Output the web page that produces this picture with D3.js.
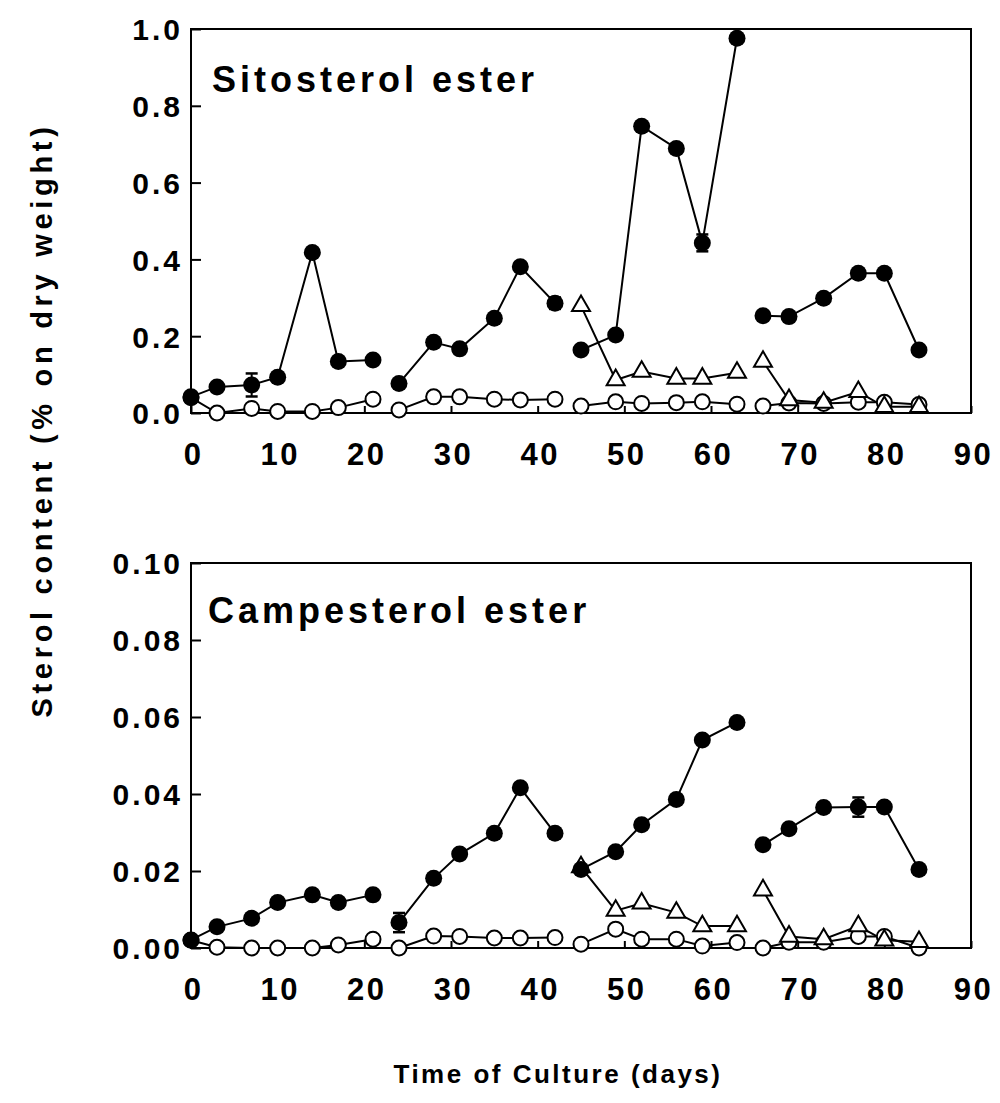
<!DOCTYPE html>
<html>
<head>
<meta charset="utf-8">
<script src="https://cdn.jsdelivr.net/npm/d3@7"></script>
<style>
    html, body { margin: 0; padding: 0; background: #fff; }
    svg text { font-family: "Liberation Sans", Arial, sans-serif; font-weight: bold; fill: #000; }
</style>
</head>
<body>
<div id="chart"></div>
<script>
// sampling days, the culture was split in four runs
var days    = [0, 3, 7, 10, 14, 17, 21, 24, 28, 31, 35, 38, 42, 45, 49, 52, 56, 59, 63, 66, 69, 73, 77, 80, 84];
var runs    = [0, 0, 0, 0, 0, 0, 0, 1, 1, 1, 1, 1, 1, 2, 2, 2, 2, 2, 2, 3, 3, 3, 3, 3, 3];
var xTicks  = [0, 10, 20, 30, 40, 50, 60, 70, 80, 90];

// Sitosterol ester
var sitoFilled = [0.042, 0.068, 0.073, 0.093, 0.418, 0.134, 0.138,
                  0.077, 0.184, 0.167, 0.247, 0.381, 0.286,
                  0.164, 0.203, 0.747, 0.689, 0.443, 0.976,
                  0.253, 0.251, 0.299, 0.364, 0.364, 0.164];
var sitoErr    = [0, 0, 0.03, 0, 0, 0, 0,
                  0, 0, 0, 0, 0, 0.015,
                  0, 0.008, 0.01, 0.01, 0.022, 0.005,
                  0, 0, 0, 0, 0.006, 0];
var sitoOpen   = [0.040, 0.000, 0.012, 0.004, 0.004, 0.014, 0.036,
                  0.008, 0.042, 0.042, 0.036, 0.034, 0.036,
                  0.018, 0.029, 0.025, 0.027, 0.029, 0.023,
                  0.018, 0.026, 0.025, 0.028, 0.028, 0.022];
var sitoTri    = [null, null, null, null, null, null, null,
                  null, null, null, null, null, null,
                  0.279, 0.086, 0.108, 0.090, 0.090, 0.105,
                  0.134, 0.034, 0.027, 0.055, 0.016, 0.016];
var sitoTicks  = [0, 0.2, 0.4, 0.6, 0.8, 1.0];

// Campesterol ester
var campFilled = [0.0021, 0.0055, 0.0077, 0.0118, 0.0138, 0.0118, 0.0138,
                  0.0066, 0.0181, 0.0244, 0.0298, 0.0416, 0.0298,
                  0.0204, 0.0250, 0.0320, 0.0386, 0.0540, 0.0586,
                  0.0268, 0.0310, 0.0365, 0.0366, 0.0366, 0.0204];
var campErr    = [0, 0, 0, 0, 0, 0, 0,
                  0.0025, 0, 0, 0.0008, 0, 0.0012,
                  0, 0, 0, 0, 0, 0.001,
                  0, 0, 0, 0.0025, 0.0012, 0.0008];
var campOpen   = [0.0020, 0.0002, 0.0000, 0.0000, 0.0000, 0.0008, 0.0023,
                  0.0000, 0.0031, 0.0030, 0.0026, 0.0026, 0.0027,
                  0.0010, 0.0049, 0.0023, 0.0023, 0.0005, 0.0014,
                  0.0000, 0.0015, 0.0015, 0.0030, 0.0030, 0.0000];
var campTri    = [null, null, null, null, null, null, null,
                  null, null, null, null, null, null,
                  0.0210, 0.0097, 0.0116, 0.0092, 0.0057, 0.0057,
                  0.0150, 0.0030, 0.0023, 0.0057, 0.0020, 0.0016];
var campTicks  = [0, 0.02, 0.04, 0.06, 0.08, 0.10];

var width  = 1000,
    height = 1103;

var svg = d3.select("#chart").append("svg")
    .attr("width", width)
    .attr("height", height);

var x = d3.scaleLinear().domain([0, 90]).range([191, 971]);

function drawPanel(opts){
    var y = d3.scaleLinear().domain([0, opts.max]).range([opts.bottom, opts.top]);
    var g = svg.append("g");

    // y axis, ticks pointing inwards
    var yAxis = d3.axisLeft(y)
        .tickValues(opts.yTicks)
        .tickFormat(d3.format(opts.fmt))
        .tickSizeInner(-10)
        .tickSizeOuter(0)
        .tickPadding(0);

    var ya = g.append("g")
        .attr("transform", "translate(" + x(0) + ",0)")
        .call(yAxis);
    ya.select(".domain").remove();
    ya.selectAll(".tick line").attr("stroke", "#000").attr("stroke-width", 2);
    ya.selectAll(".tick text")
        .attr("x", -8)
        .attr("dy", "0.36em")
        .style("font-size", "30px")
        .style("letter-spacing", "3px")
        .style("font-family", null);

    var xAxis = d3.axisBottom(x)
        .tickValues(xTicks)
        .tickFormat(d3.format("d"))
        .tickSizeInner(-7)
        .tickSizeOuter(0)
        .tickPadding(0);

    var xa = g.append("g")
        .attr("transform", "translate(0," + opts.bottom + ")")
        .call(xAxis);
    xa.select(".domain").remove();
    xa.selectAll(".tick line").attr("stroke", "#000").attr("stroke-width", 2);
    xa.selectAll(".tick text")
        .attr("y", 52)
        .attr("dy", 0)
        .attr("dx", 2)
        .style("font-size", "31px")
        .style("letter-spacing", "2.5px")
        .style("font-family", null);

    // frame
    g.append("rect")
        .attr("x", x(0))
        .attr("y", opts.top)
        .attr("width", x(90) - x(0))
        .attr("height", opts.bottom - opts.top)
        .attr("fill", "none")
        .attr("stroke", "#000")
        .attr("stroke-width", 2);

    g.append("text")
        .attr("x", opts.titleX)
        .attr("y", opts.titleY)
        .style("font-size", "36px")
        .style("letter-spacing", "4px")
        .text(opts.title);

    var rows = days.map(function(d, i){
        return { day: d, run: runs[i], filled: opts.filled[i], err: opts.err[i], open: opts.open[i], tri: opts.tri[i] };
    });

    var runIds = d3.groups(rows, function(d){ return d.run; });

    ["open", "tri", "filled"].forEach(function(key){
        var line = d3.line()
            .defined(function(d){ return d[key] !== null; })
            .x(function(d){ return x(d.day); })
            .y(function(d){ return y(d[key]); });

        runIds.forEach(function(r){
            g.append("path")
                .datum(r[1])
                .attr("d", line)
                .attr("fill", "none")
                .attr("stroke", "#000")
                .attr("stroke-width", 2);
        });
    });

    // error bars of the filled series
    var eb = g.selectAll(".err")
        .data(rows.filter(function(d){ return d.err > 0; }))
        .enter().append("g");
    eb.append("line")
        .attr("x1", function(d){ return x(d.day); })
        .attr("x2", function(d){ return x(d.day); })
        .attr("y1", function(d){ return y(d.filled - d.err); })
        .attr("y2", function(d){ return y(d.filled + d.err); })
        .attr("stroke", "#000").attr("stroke-width", 2);
    [-1, 1].forEach(function(s){
        eb.append("line")
            .attr("x1", function(d){ return x(d.day) - 6; })
            .attr("x2", function(d){ return x(d.day) + 6; })
            .attr("y1", function(d){ return y(d.filled + s * d.err); })
            .attr("y2", function(d){ return y(d.filled + s * d.err); })
            .attr("stroke", "#000").attr("stroke-width", 2.5);
    });

    g.selectAll(".open")
        .data(rows)
        .enter().append("circle")
        .attr("cx", function(d){ return x(d.day); })
        .attr("cy", function(d){ return y(d.open); })
        .attr("r", 7.5)
        .attr("fill", "#fff")
        .attr("stroke", "#000")
        .attr("stroke-width", 2);

    g.selectAll(".tri")
        .data(rows.filter(function(d){ return d.tri !== null; }))
        .enter().append("path")
        .attr("d", d3.symbol(d3.symbolTriangle, 140))
        .attr("transform", function(d){ return "translate(" + x(d.day) + "," + y(d.tri) + ")"; })
        .attr("fill", "#fff")
        .attr("stroke", "#000")
        .attr("stroke-width", 2);

    g.selectAll(".filled")
        .data(rows)
        .enter().append("circle")
        .attr("cx", function(d){ return x(d.day); })
        .attr("cy", function(d){ return y(d.filled); })
        .attr("r", 8.5)
        .attr("fill", "#000");
}

drawPanel({
    title: "Sitosterol ester", titleX: 212, titleY: 92,
    top: 29, bottom: 413, max: 1.0, yTicks: sitoTicks, fmt: ".1f",
    filled: sitoFilled, err: sitoErr, open: sitoOpen, tri: sitoTri
});

drawPanel({
    title: "Campesterol ester", titleX: 208, titleY: 623,
    top: 563, bottom: 948, max: 0.10, yTicks: campTicks, fmt: ".2f",
    filled: campFilled, err: campErr, open: campOpen, tri: campTri
});

// axis titles
svg.append("text")
    .attr("transform", "translate(52,420) rotate(-90)")
    .attr("text-anchor", "middle")
    .style("font-size", "29px")
    .style("letter-spacing", "4.7px")
    .text("Sterol content (% on dry weight)");

svg.append("text")
    .attr("x", 558)
    .attr("y", 1083)
    .attr("text-anchor", "middle")
    .style("font-size", "26px")
    .style("letter-spacing", "2.5px")
    .text("Time of Culture (days)");
</script>
</body>
</html>
